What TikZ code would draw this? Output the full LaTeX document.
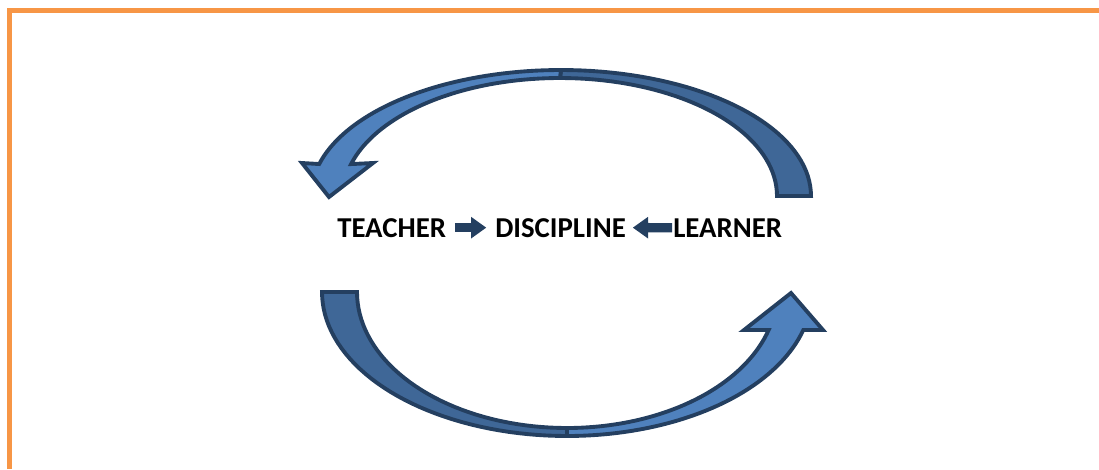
\documentclass[tikz,border=0pt]{standalone}
\usepackage{fontspec}
\setmainfont{Carlito}
\usetikzlibrary{arrows.meta}
\definecolor{lightblue}{HTML}{4F81BD}
\definecolor{darkblue}{HTML}{3F6797}
\definecolor{outlinenavy}{HTML}{243F60}
\definecolor{frameorange}{HTML}{F79646}
\definecolor{smallnavy}{HTML}{243F60}
\begin{document}
\begin{tikzpicture}[x=0.75pt,y=-0.75pt,
  band/.style={draw=outlinenavy, line width=2.9pt, line join=miter},
  wordlabel/.style={font=\fontsize{21.6}{26}\selectfont\bfseries, inner sep=0pt, anchor=base west},
  smallarrow/.style={draw=smallnavy, line width=7pt, -{Triangle[length=11.5pt,width=15.5pt]}}]
\useasboundingbox (0,0) rectangle (1099,469);
% orange frame
\draw[frameorange, line width=3.75pt] (9.5,469) -- (9.5,10.5) -- (1099,10.5);
% top curved arrow: back (dark) band
\draw[band, fill=darkblue]
  plot[domain=0:90, samples=40, variable=\t] ({561+250*cos(\t)},{196-126*sin(\t)})
  -- plot[domain=90:0, samples=40, variable=\t] ({560+217*cos(\t)},{196-118*sin(\t)})
  -- cycle;
% top curved arrow: front (light) band with head
\draw[band, fill=lightblue]
  plot[domain=90:165.3, samples=40, variable=\t] ({561+250*cos(\t)},{196-126*sin(\t)})
  -- (302,163) -- (329,197) -- (373,163)
  -- plot[domain=164.3:90, samples=40, variable=\t] ({560+217*cos(\t)},{196-118*sin(\t)})
  -- cycle;
% bottom curved arrow: back (dark) band
\draw[band, fill=darkblue]
  plot[domain=180:90, samples=40, variable=\t] ({567+245*cos(\t)},{292+144*sin(\t)})
  -- plot[domain=90:180, samples=40, variable=\t] ({567+210*cos(\t)},{292+136*sin(\t)})
  -- cycle;
% bottom curved arrow: front (light) band with head
\draw[band, fill=lightblue]
  plot[domain=90:15.3, samples=40, variable=\t] ({567+245*cos(\t)},{292+144*sin(\t)})
  -- (823,330) -- (791,293) -- (744,330)
  -- plot[domain=16.2:90, samples=40, variable=\t] ({567+210*cos(\t)},{292+136*sin(\t)})
  -- cycle;
% words
\node[wordlabel] (teacher) at (337,237) {TEACHER};
\node[wordlabel] (discipline) at (495,237) {DISCIPLINE};
\node[wordlabel] (learner) at (673,237) {LEARNER};
% small arrows
\draw[smallarrow] ([xshift=6.5pt]teacher.east) -- ([xshift=-6.5pt]discipline.west);
\draw[smallarrow] ([xshift=-0.75pt]learner.west) -- ([xshift=5pt]discipline.east);
\end{tikzpicture}
\end{document}
